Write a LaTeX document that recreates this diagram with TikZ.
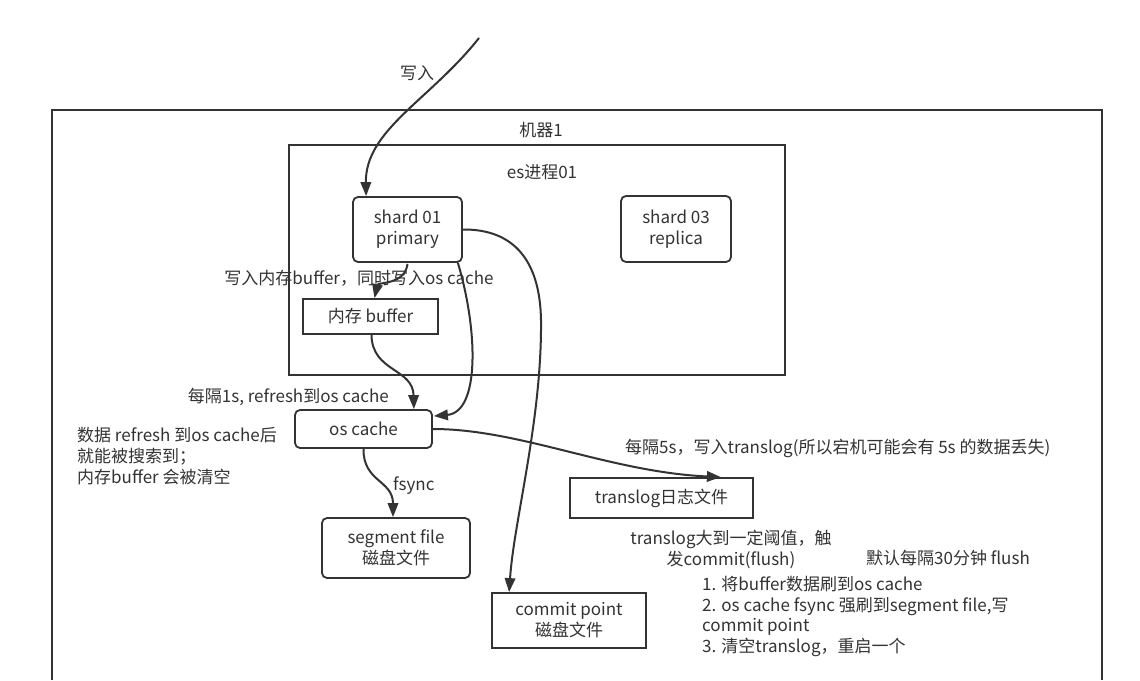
\documentclass[tikz,border=0pt]{standalone}
\usepackage{fontspec}
\setmainfont{Noto Sans CJK SC}
\usetikzlibrary{arrows.meta,calc}
\definecolor{ink}{HTML}{333333}
\begin{document}
\begin{tikzpicture}[x=1pt,y=-1pt,
  txt/.style={text=ink, font=\fontsize{17}{21}\selectfont, inner sep=0pt},
  box/.style={txt, draw=ink, line width=1.8pt, align=center},
  rbox/.style={box, rounded corners=5pt},
  frame/.style={draw=ink, line width=1.8pt},
  conn/.style={draw=ink, line width=2pt, -{Triangle[length=14pt,width=10.5pt]}}]
\useasboundingbox[fill=white] (0,0) rectangle (1140,680);
% outer machine frame (bottom edge outside the picture)
\coordinate (mbl) at (52,680);
\coordinate (mtl) at (52,110);
\coordinate (mtr) at (1102,110);
\coordinate (mbr) at (1102,680);
\draw[frame] (mbl) -- (mtl) -- (mtr) -- (mbr);
\node[txt] (mlabel) at (541,130) {机器1};
% es process frame
\node[frame, minimum width=496pt, minimum height=230pt, inner sep=0pt] (es) at (537,260) {};
\node[txt] (eslabel) at (542,172) {es进程01};
% boxes
\node[rbox, minimum width=109pt, minimum height=65pt] (s1) at (407.5,229.5) {shard 01\\primary};
\node[rbox, minimum width=110pt, minimum height=66pt] (s3) at (676,229) {shard 03\\replica};
\node[box, minimum width=135pt, minimum height=35pt] (buf) at (370.5,316.5) {内存 buffer};
\node[rbox, minimum width=137pt, minimum height=38pt] (osc) at (363.5,429) {os cache};
\node[box, minimum width=183pt, minimum height=40pt] (tl) at (661.5,498) {translog日志文件};
\node[rbox, minimum width=148pt, minimum height=60pt] (seg) at (396,548) {segment file\\磁盘文件};
\node[box, minimum width=154pt, minimum height=55pt] (cp) at (569,620.5) {commit point\\磁盘文件};
% labels
\node[txt] (lw) at (417,73) {写入};
\node[txt] (lbuf) at (359,278) {写入内存buffer，同时写入os cache};
\node[txt, anchor=east] (lref) at (389,397) {每隔1s, refresh到os cache};
\node[txt, anchor=north west, align=left] (lsearch) at (77,427) {数据 refresh 到os cache后\\就能被搜索到；\\内存buffer 会被清空};
\node[txt, anchor=west] (lfs) at (393,486) {fsync};
\node[txt, anchor=west] (l5s) at (625,448) {每隔5s，写入translog(所以宕机可能会有 5s 的数据丢失)};
\node[txt, align=center] (lth) at (731,549) {translog大到一定阈值，触\\发commit(flush)};
\node[txt] (l30) at (948,558) {默认每隔30分钟 flush};
\node[txt, anchor=north west, align=left, font=\fontsize{17}{20.5}\selectfont] (lsteps) at (702,576) {1. 将buffer数据刷到os cache\\2. os cache fsync 强刷到segment file,写\\commit point\\3. 清空translog，重启一个};
% connectors
\coordinate (wstart) at (479,38);
\draw[conn] (wstart) .. controls (430,100) and (365,130) .. ($(s1.north west)+(14,0)$);
\draw[conn] ($(s1.south)+(0,1)$) .. controls (405,285) and (378,282) .. ($(buf.north)+(4,0)$);
\draw[conn] ($(buf.south)+(1,0)$) .. controls (372,372) and (413,368) .. ($(osc.north east)+(-19,0)$);
\draw[conn] ($(s1.south east)+(-5,0)$) .. controls (478,330) and (480,412) .. ($(osc.north east)+(1,7)$);
\draw[conn] (s1.east) .. controls (515,229) and (540,262) .. (541,320) .. controls (542,420) and (514,520) .. ($(cp.north west)+(18,0)$);
\draw[conn] (osc.east) .. controls (520,429) and (610,472) .. ($(tl.north east)+(-33,0)$);
\draw[conn] (osc.south) .. controls (363,482) and (393,480) .. ($(seg.north)+(-3,0)$);
\end{tikzpicture}
\end{document}
